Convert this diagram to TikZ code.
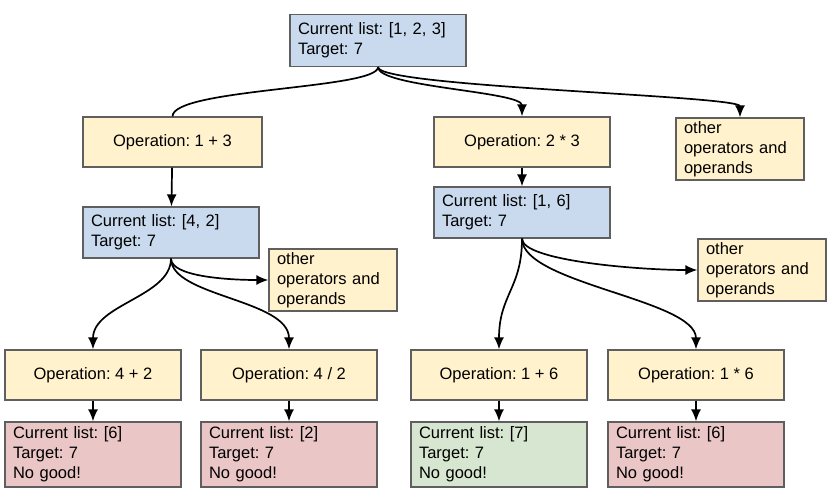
\documentclass[tikz,border=0pt]{standalone}
\usepackage{fontspec}
\setmainfont{Liberation Sans}
\usetikzlibrary{arrows.meta}
\definecolor{listblue}{HTML}{C9DAEE}
\definecolor{opyellow}{HTML}{FFF2CC}
\definecolor{badred}{HTML}{EAC6C6}
\definecolor{goodgreen}{HTML}{D7E6D0}
\definecolor{boxgray}{HTML}{5F5F5F}
\frenchspacing

\begin{document}
\begin{tikzpicture}[
    x=1pt,y=-1pt,
    font=\fontsize{16.5}{20}\selectfont,
    box/.style={draw=boxgray,line width=1.2pt,inner xsep=8pt,inner ysep=0pt},
    listbox/.style={box,fill=listblue,text width=160pt,minimum height=52pt,align=left},
    opbox/.style={box,fill=opyellow,minimum width=176pt,minimum height=50pt,align=center},
    otherbox/.style={box,fill=opyellow,text width=112pt,minimum height=62pt,align=left},
    badbox/.style={box,fill=badred,text width=160pt,minimum height=65pt,align=left},
    goodbox/.style={box,fill=goodgreen,text width=160pt,minimum height=65pt,align=left},
    link/.style={line width=1.7pt},
    arr/.style={link,-{Latex[length=12pt,width=10pt]}},
  ]
    \fill[white] (0,0) rectangle (836,496);
    \useasboundingbox (0,0) rectangle (836,496);

    % root
    \node[listbox] (root) at (378,40.5) {Current list: [1, 2, 3]\\Target: 7};

    % first level
    \node[opbox,minimum width=179pt] (op13) at (172.5,142) {Operation: 1 + 3};
    \node[opbox] (op23) at (522,142) {Operation: 2 * 3};
    \node[otherbox] (otherA) at (740,149) {other\\operators and\\operands};

    \node[listbox,minimum height=51pt] (list42) at (171,232.5) {Current list: [4, 2]\\Target: 7};
    \node[listbox,minimum height=51pt] (list16) at (522,212.5) {Current list: [1, 6]\\Target: 7};
    \node[otherbox] (otherB) at (333,280) {other\\operators and\\operands};
    \node[otherbox] (otherC) at (762,270) {other\\operators and\\operands};

    % second level
    \node[opbox] (op42) at (93,375) {Operation: 4 + 2};
    \node[opbox] (op4d2) at (289,375) {Operation: 4 / 2};
    \node[opbox] (op16) at (499,375) {Operation: 1 + 6};
    \node[opbox] (op1m6) at (696,375) {Operation: 1 * 6};

    \node[badbox] (res6a) at (93,454.5) {Current list: [6]\\Target: 7\\No good!};
    \node[badbox] (res2) at (289,454.5) {Current list: [2]\\Target: 7\\No good!};
    \node[goodbox] (res7) at (499,454.5) {Current list: [7]\\Target: 7\\No good!};
    \node[badbox] (res6b) at (696,454.5) {Current list: [6]\\Target: 7\\No good!};

    % connectors
    \draw[link] (root.south) .. controls +(0,22) and +(0,-28) .. (op13.north);
    \draw[arr] (root.south) .. controls +(0,20) and +(0,-25) .. (op23.north);
    \draw[arr] (root.south) .. controls +(0,20) and +(0,-22) .. (otherA.north);

    \draw[arr] (op13) -- (list42);
    \draw[arr] (op23) -- (list16);

    \draw[arr] (list42.south) .. controls +(0,18) and +(-40,0) .. (otherB.west);
    \draw[arr] (list42.south) .. controls +(0,38) and +(0,-45) .. (op42.north);
    \draw[arr] (list42.south) .. controls +(0,38) and +(0,-50) .. (op4d2.north);

    \draw[arr] (list16.south) .. controls +(0,22) and +(-60,0) .. (otherC.west);
    \draw[arr] (list16.south) .. controls +(0,50) and +(0,-55) .. (op16.north);
    \draw[arr] (list16.south) .. controls +(0,45) and +(0,-50) .. (op1m6.north);

    \draw[arr] (op42) -- (res6a);
    \draw[arr] (op4d2) -- (res2);
    \draw[arr] (op16) -- (res7);
    \draw[arr] (op1m6) -- (res6b);
  \end{tikzpicture}
\end{document}
